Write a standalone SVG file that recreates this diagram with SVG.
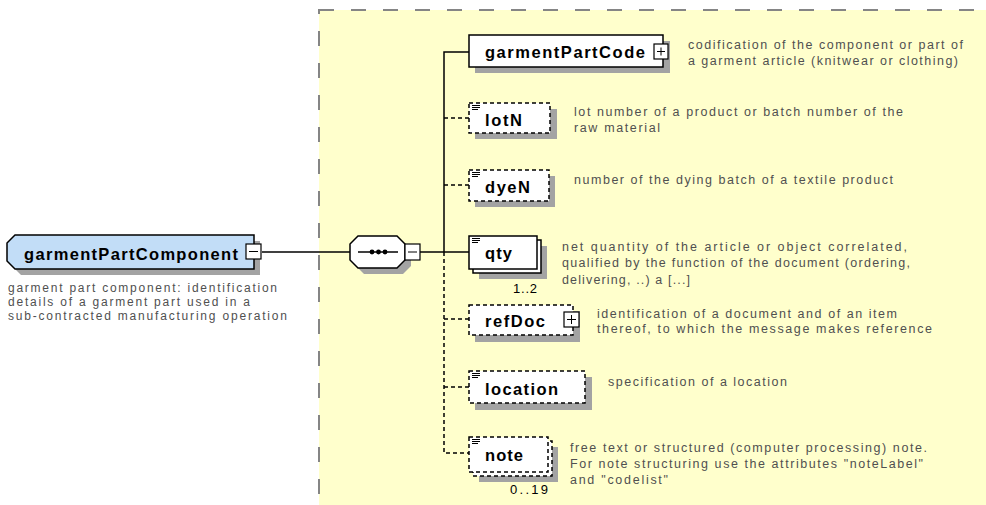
<svg xmlns="http://www.w3.org/2000/svg" width="986" height="505" viewBox="0 0 986 505">
<style>
.bg{fill:#ffffcc;stroke:#858585;stroke-width:2;stroke-dasharray:15 17}
.box{fill:#ffffff;stroke:#000;stroke-width:1.5}
.opt{fill:#ffffff;stroke:#000;stroke-width:1.5;stroke-dasharray:4 3}
.sh{fill:#a3a3a3}
.lbl{font-family:"Liberation Sans",Arial,sans-serif;font-weight:bold;font-size:16.5px;fill:#000}
.desc{font-family:"Liberation Sans",Arial,sans-serif;font-size:12.5px;fill:#505050}
.mdesc{font-family:"Liberation Sans",Arial,sans-serif;font-size:12px;fill:#505050}
.mult{font-family:"Liberation Sans",Arial,sans-serif;font-size:13px;fill:#000}
.ln{stroke:#000;stroke-width:1.5;fill:none}
.dl{stroke:#000;stroke-width:1.5;fill:none;stroke-dasharray:4 3}
.ico{stroke:#000;stroke-width:1}
.pm{fill:#fff;stroke:#000;stroke-width:1.2}
</style>
<rect class="bg" x="319" y="10" width="720" height="530"/>

<g id="connectors">
<line class="ln" x1="262" y1="252" x2="350" y2="252"/>
<line class="ln" x1="420" y1="252" x2="469" y2="252"/>
<polyline class="ln" points="469,52 444,52 444,252"/>
<polyline class="dl" points="444,252 444,453 469,453"/>
<line class="dl" x1="444" y1="118" x2="469" y2="118"/>
<line class="dl" x1="444" y1="185" x2="469" y2="185"/>
<line class="dl" x1="444" y1="319" x2="469" y2="319"/>
<line class="dl" x1="444" y1="387" x2="469" y2="387"/>
</g>

<g id="garmentPartComponent">
<polygon class="sh" points="21,241 260,241 260,275 21,275 13,267 13,249"/>
<polygon points="15,235 254,235 254,269 15,269 7,261 7,243" fill="#c2ddf7" stroke="#000" stroke-width="1.5"/>
<text class="lbl" x="24" y="260" textLength="214" lengthAdjust="spacing">garmentPartComponent</text>
<rect class="pm" x="246" y="244" width="15" height="15"/>
<line class="ico" x1="249" y1="251.5" x2="258" y2="251.5"/>
<text class="mdesc" x="8" y="292" textLength="269" lengthAdjust="spacing">garment part component: identification</text>
<text class="mdesc" x="8" y="306" textLength="242" lengthAdjust="spacing">details of a garment part used in a</text>
<text class="mdesc" x="8" y="320" textLength="279" lengthAdjust="spacing">sub-contracted manufacturing operation</text>
</g>

<g id="sequence">
<polygon class="sh" points="364,242 403,242 411,250 411,266 403,274 364,274 356,266 356,250"/>
<polygon points="358,236 397,236 405,244 405,260 397,268 358,268 350,260 350,244" fill="#fff" stroke="#000" stroke-width="1.5"/>
<line class="ln" x1="358" y1="252" x2="398" y2="252"/>
<circle cx="372" cy="252" r="2.4"/>
<circle cx="378.5" cy="252" r="2.4"/>
<circle cx="385" cy="252" r="2.4"/>
<rect class="pm" x="405" y="244" width="15" height="16"/>
<line class="ico" x1="408" y1="252" x2="417" y2="252"/>
</g>

<g id="garmentPartCode">
<rect class="sh" x="475" y="41" width="195" height="32"/>
<rect class="box" x="469" y="35" width="194" height="32"/>
<text class="lbl" x="485" y="58" textLength="160" lengthAdjust="spacing">garmentPartCode</text>
<rect class="pm" x="654" y="44" width="14" height="15"/>
<line class="ico" x1="657" y1="51.5" x2="665" y2="51.5"/>
<line class="ico" x1="661" y1="47.5" x2="661" y2="55.5"/>
<text class="desc" x="688" y="49" textLength="275" lengthAdjust="spacing">codification of the component or part of</text>
<text class="desc" x="688" y="65" textLength="270" lengthAdjust="spacing">a garment article (knitwear or clothing)</text>
</g>

<g id="lotN">
<rect class="sh" x="475" y="109" width="82" height="30"/>
<rect class="opt" x="469" y="103" width="81" height="30"/>
<line class="ico" x1="472" y1="105.5" x2="480" y2="105.5"/>
<line class="ico" x1="472" y1="107.5" x2="480" y2="107.5"/>
<line class="ico" x1="472" y1="109.5" x2="478" y2="109.5"/>
<text class="lbl" x="485" y="126" textLength="37" lengthAdjust="spacing">lotN</text>
<text class="desc" x="574" y="116" textLength="329" lengthAdjust="spacing">lot number of a product or batch number of the</text>
<text class="desc" x="574" y="132" textLength="86" lengthAdjust="spacing">raw material</text>
</g>

<g id="dyeN">
<rect class="sh" x="475" y="176" width="80" height="31"/>
<rect class="opt" x="469" y="170" width="80" height="31"/>
<line class="ico" x1="472" y1="172.5" x2="480" y2="172.5"/>
<line class="ico" x1="472" y1="174.5" x2="480" y2="174.5"/>
<line class="ico" x1="472" y1="176.5" x2="478" y2="176.5"/>
<text class="lbl" x="485" y="193" textLength="45" lengthAdjust="spacing">dyeN</text>
<text class="desc" x="574" y="184" textLength="319" lengthAdjust="spacing">number of the dying batch of a textile product</text>
</g>

<g id="qty">
<rect class="sh" x="479" y="246" width="68" height="33"/>
<rect class="box" x="473" y="240" width="68" height="33"/>
<rect class="box" x="469" y="236" width="68" height="33"/>
<line class="ico" x1="472" y1="238.5" x2="480" y2="238.5"/>
<line class="ico" x1="472" y1="240.5" x2="480" y2="240.5"/>
<line class="ico" x1="472" y1="242.5" x2="478" y2="242.5"/>
<text class="lbl" x="485" y="259" textLength="27" lengthAdjust="spacing">qty</text>
<text class="mult" x="513" y="293" textLength="24" lengthAdjust="spacing">1..2</text>
<text class="desc" x="562" y="251" textLength="345" lengthAdjust="spacing">net quantity of the article or object correlated,</text>
<text class="desc" x="562" y="267" textLength="348" lengthAdjust="spacing">qualified by the function of the document (ordering,</text>
<text class="desc" x="562" y="284" textLength="128" lengthAdjust="spacing">delivering, ..) a [...]</text>
</g>

<g id="refDoc">
<rect class="sh" x="475" y="311" width="105" height="31"/>
<rect class="opt" x="469" y="305" width="104" height="30"/>
<text class="lbl" x="485" y="327" textLength="60" lengthAdjust="spacing">refDoc</text>
<rect class="pm" x="564" y="312" width="15" height="15"/>
<line class="ico" x1="567" y1="319.5" x2="576" y2="319.5"/>
<line class="ico" x1="571.5" y1="315" x2="571.5" y2="324"/>
<text class="desc" x="597" y="318" textLength="300" lengthAdjust="spacing">identification of a document and of an item</text>
<text class="desc" x="597" y="333" textLength="335" lengthAdjust="spacing">thereof, to which the message makes reference</text>
</g>

<g id="location">
<rect class="sh" x="475" y="377" width="117" height="33"/>
<rect class="opt" x="469" y="371" width="116" height="32"/>
<line class="ico" x1="472" y1="373.5" x2="480" y2="373.5"/>
<line class="ico" x1="472" y1="375.5" x2="480" y2="375.5"/>
<line class="ico" x1="472" y1="377.5" x2="478" y2="377.5"/>
<text class="lbl" x="485" y="395" textLength="73" lengthAdjust="spacing">location</text>
<text class="desc" x="608" y="386" textLength="179" lengthAdjust="spacing">specification of a location</text>
</g>

<g id="note">
<rect class="sh" x="479" y="447" width="79" height="35"/>
<rect class="opt" x="473" y="441" width="79" height="35"/>
<rect class="opt" x="469" y="437" width="79" height="35"/>
<line class="ico" x1="472" y1="439.5" x2="480" y2="439.5"/>
<line class="ico" x1="472" y1="441.5" x2="480" y2="441.5"/>
<line class="ico" x1="472" y1="443.5" x2="478" y2="443.5"/>
<text class="lbl" x="485" y="461" textLength="38" lengthAdjust="spacing">note</text>
<text class="mult" x="510" y="494" textLength="38" lengthAdjust="spacing">0..19</text>
<text class="desc" x="570" y="452" textLength="357" lengthAdjust="spacing">free text or structured (computer processing) note.</text>
<text class="desc" x="570" y="468" textLength="353" lengthAdjust="spacing">For note structuring use the attributes "noteLabel"</text>
<text class="desc" x="570" y="484" textLength="98" lengthAdjust="spacing">and "codelist"</text>
</g>
</svg>
